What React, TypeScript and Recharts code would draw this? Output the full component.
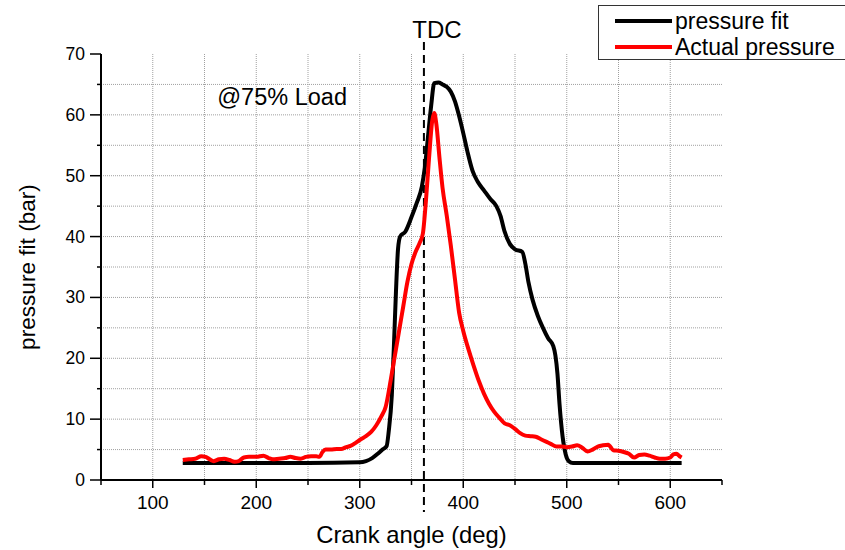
import React from 'react';
import {
  LineChart,
  Line,
  XAxis,
  YAxis,
  CartesianGrid,
  ReferenceLine,
  ReferenceDot,
} from 'recharts';

const FONT = '"Liberation Sans", Arial, sans-serif';

// pressure fit (black)
const fitAngles = [
  129, 150, 200, 250, 300, 306, 312, 318, 322, 326, 328, 331, 333, 335, 337, 339, 344, 350,
  355, 360, 363, 366, 369, 372, 376, 380, 384, 388, 392, 396, 400, 404, 409, 414, 420, 426,
  432, 436, 440, 445, 450, 457, 460, 463, 467, 472, 477, 482, 487, 489, 491, 493, 496, 499,
  502, 506, 520, 560, 611,
];
const fitPressure = [
  2.8, 2.8, 2.8, 2.8, 2.9, 3.1, 3.6, 4.4, 5.0, 5.6, 8.0, 14.0, 22.0, 31.0, 38.0, 40.0, 40.8,
  43.2, 45.5, 48.2, 51.5, 56.5, 61.5, 65.2, 65.3, 65.0, 64.6, 63.8, 62.2, 59.8, 57.0, 54.0,
  50.8, 49.0, 47.6, 46.2, 45.0, 43.4, 40.8, 38.8, 37.9, 37.5, 35.5, 32.5, 29.6, 27.0, 25.0,
  23.3, 22.0, 20.5, 17.5, 12.5, 7.1, 4.2, 3.1, 2.8, 2.8, 2.8, 2.8,
];

// actual pressure (red)
const actualAngles = [
  129, 135, 141, 147, 151, 155, 159, 164, 169, 174, 179, 183, 188, 193, 200, 207, 212, 216,
  222, 228, 233, 238, 243, 248, 253, 258, 261, 264, 267, 272, 278, 282, 287, 291, 296, 301,
  306, 311, 316, 321, 325, 330, 334, 338, 342, 346, 350, 354, 358, 361, 364, 367, 370, 372,
  374, 377, 380, 384, 388, 392, 396, 400, 405, 410, 415, 420, 425, 430, 435, 440, 445, 450,
  455, 460, 465, 470, 475, 480, 485, 490, 495, 500, 505, 510, 515, 520, 525, 530, 535, 540,
  545, 550, 555, 560, 565, 570, 575, 580, 585, 590, 595, 600, 603, 606, 609, 611,
];
const actualPressure = [
  3.3, 3.4, 3.5, 3.9, 3.8, 3.4, 3.1, 3.4, 3.5, 3.3, 3.0, 3.1, 3.7, 3.8, 3.8, 4.0, 3.6, 3.4,
  3.5, 3.6, 3.8, 3.6, 3.5, 3.8, 3.9, 3.9, 3.8, 4.6, 5.0, 5.0, 5.1, 5.1, 5.4, 5.6, 6.1, 6.7,
  7.2, 7.9, 9.0, 10.5, 12.0, 16.5, 20.5, 24.5, 28.5, 32.5, 35.5, 37.5, 39.0, 40.5, 46.0,
  53.0, 59.0, 60.3, 58.5, 53.0, 48.0, 43.5, 38.5, 33.0, 27.5, 24.5, 21.5, 18.8, 16.3, 14.2,
  12.5, 11.2, 10.2, 9.3, 9.0, 8.4, 7.7, 7.3, 7.2, 7.1, 6.7, 6.3, 5.9, 5.5, 5.5, 5.4, 5.5,
  5.7, 5.3, 4.7, 5.0, 5.5, 5.7, 5.8, 4.9, 4.8, 4.6, 4.3, 3.7, 4.1, 4.2, 4.0, 3.7, 3.5, 3.5,
  3.7, 4.2, 4.3, 3.9, 3.7,
];

const xTicks = [50, 100, 150, 200, 250, 300, 350, 400, 450, 500, 550, 600, 650];
const xLabelled = [100, 200, 300, 400, 500, 600];
const yTicks = [0, 5, 10, 15, 20, 25, 30, 35, 40, 45, 50, 55, 60, 65, 70];
const xGrid = [100, 150, 200, 250, 300, 350, 400, 450, 500, 550, 600];
const yGrid = [5, 10, 15, 20, 25, 30, 35, 40, 45, 50, 55, 60, 65];

const seriesNames = ['pressure fit', 'Actual pressure'];
const seriesColors = ['#000000', '#ff0000'];

const fitData = fitAngles.map((a, i) => ({ angle: a, p: fitPressure[i] }));
const actualData = actualAngles.map((a, i) => ({ angle: a, p: actualPressure[i] }));

function XTick(props: any) {
  const { x, y, payload } = props;
  const v = payload.value;
  const major = v % 100 === 0;
  return (
    <g>
      <line x1={x} x2={x} y1={y} y2={y + (major ? 8 : 5)} stroke="#000" strokeWidth={1.5} />
      {xLabelled.includes(v) && (
        <text x={x} y={y + 22} textAnchor="middle" dominantBaseline="central" fontSize={19} fontFamily={FONT} fill="#000">
          {v}
        </text>
      )}
    </g>
  );
}

function YTick(props: any) {
  const { x, y, payload } = props;
  const v = payload.value;
  const major = v % 10 === 0;
  return (
    <g>
      <line x1={x - (major ? 11 : 4)} x2={x} y1={y} y2={y} stroke="#000" strokeWidth={1.5} />
      {major && (
        <text x={x - 16} y={y} textAnchor="end" dominantBaseline="central" fontSize={17.5} fontFamily={FONT} fill="#000">
          {v}
        </text>
      )}
    </g>
  );
}

function TdcLine(props: any) {
  const { x1, y1, x2, y2 } = props;
  const top = Math.min(y1, y2);
  const bottom = Math.max(y1, y2);
  return <line x1={x1} x2={x2} y1={top - 12} y2={bottom + 32} stroke="#000" strokeWidth={2} strokeDasharray="8 5" />;
}

export default function App() {
  return (
    <div style={{ position: 'absolute', left: 0, top: 0, width: 845, height: 550, overflow: 'hidden', background: '#fff' }}>
      <LineChart width={845} height={550} margin={{ top: 54, right: 123, bottom: 0, left: 0 }}>
        <CartesianGrid
          stroke="#a0a0a0"
          strokeDasharray="1 1"
          horizontalValues={yGrid}
          verticalValues={xGrid}
        />
        <XAxis
          type="number"
          dataKey="angle"
          domain={[50, 650]}
          ticks={xTicks}
          allowDataOverflow
          height={70}
          tickSize={0}
          tickMargin={0}
          tickLine={false}
          tick={<XTick />}
          axisLine={{ stroke: '#000', strokeWidth: 2 }}
          label={{ value: 'Crank angle (deg)', position: 'insideBottom', offset: 7, fontSize: 23.8, fill: '#000', fontFamily: FONT }}
        />
        <YAxis
          type="number"
          domain={[0, 70]}
          ticks={yTicks}
          width={101}
          tickSize={0}
          tickMargin={0}
          tickLine={false}
          tick={<YTick />}
          axisLine={{ stroke: '#000', strokeWidth: 2 }}
          label={{
            value: 'pressure fit (bar)',
            angle: -90,
            position: 'insideLeft',
            offset: 27,
            fontSize: 22.6,
            fill: '#000',
            fontFamily: FONT,
            style: { textAnchor: 'middle' },
          }}
        />
        <ReferenceLine
          x={362}
          shape={<TdcLine />}
          label={{ value: 'TDC', position: 'top', offset: 16, dx: 13, fontSize: 24, fill: '#000', fontFamily: FONT }}
        />
        <ReferenceDot
          x={225}
          y={63}
          r={0}
          stroke="none"
          label={{ value: '@75% Load', position: 'center', fontSize: 23.5, fill: '#000', fontFamily: FONT }}
        />
        <Line
          data={fitData}
          dataKey="p"
          name={seriesNames[0]}
          type="monotone"
          stroke={seriesColors[0]}
          strokeWidth={4}
          dot={false}
          isAnimationActive={false}
        />
        <Line
          data={actualData}
          dataKey="p"
          name={seriesNames[1]}
          type="monotone"
          stroke={seriesColors[1]}
          strokeWidth={4}
          dot={false}
          isAnimationActive={false}
        />
      </LineChart>
      <div
        style={{
          position: 'absolute',
          left: 598,
          top: 5,
          width: 260,
          height: 55,
          border: '1px solid #333',
          background: '#fff',
          fontFamily: FONT,
          fontSize: 23,
          boxSizing: 'border-box',
          paddingTop: 2,
        }}
      >
        {seriesNames.map((n, i) => (
          <div key={n} style={{ display: 'flex', alignItems: 'center', height: 26 }}>
            <span style={{ display: 'inline-block', marginLeft: 16, width: 57, height: 4, background: seriesColors[i] }} />
            <span style={{ marginLeft: 3, lineHeight: '26px' }}>{n}</span>
          </div>
        ))}
      </div>
    </div>
  );
}
